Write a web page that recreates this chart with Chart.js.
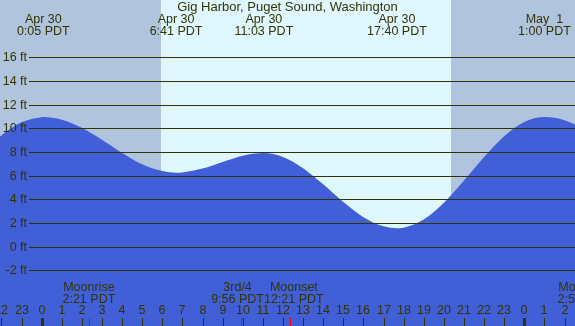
<!DOCTYPE html>
<html><head><meta charset="utf-8">
<script src="https://cdn.jsdelivr.net/npm/chart.js@4/dist/chart.umd.min.js"></script>
<style>html,body{margin:0;padding:0;background:#b0c4de;}#wrap{width:575px;height:326px;position:relative;}</style>
</head><body><div id="wrap"><canvas id="c"></canvas></div>
<script>
// Hours since Apr 30 00:00 PDT and tide height (ft)
const tideHours = [-3,-2,-1,0,0.083,1,2,3,4,5,6,6.683,7,8,9,10,11.05,12,13,14,15,16,17,17.667,18,19,20,21,22,23,24,25,26,27];
const tideFeet  = [7.83,9.39,10.50,10.94,10.95,10.73,10.04,9.03,7.92,6.96,6.38,6.25,6.27,6.59,7.15,7.68,7.90,7.58,6.63,5.26,3.77,2.49,1.71,1.55,1.60,2.30,3.71,5.58,7.57,9.33,10.53,10.95,10.68,9.93];
const yTickValues = [-2,0,2,4,6,8,10,12,14,16];
const hourTicks = [-2,-1,0,1,2,3,4,5,6,7,8,9,10,11,12,13,14,15,16,17,18,19,20,21,22,23,24,25,26];
const sunTimes = [5.93, 20.36];
const extremeHours = [0.083, 6.683, 11.05, 17.667, 25];
const extremeDates = ['Apr 30','Apr 30','Apr 30','Apr 30','May  1'];
const extremeTimes = ['0:05 PDT','6:41 PDT','11:03 PDT','17:40 PDT','1:00 PDT'];
const moonHours = [2.35, 9.933, 12.35, 26.967];
const moonNames = ['Moonrise','3rd/4','Moonset','Moonrise'];
const moonTimes = ['2:21 PDT','9:56 PDT','12:21 PDT','2:58 PDT'];
const chartTitle = 'Gig Harbor, Puget Sound, Washington';

const DARK = '#b0c4de', LIGHT = '#dff8ff', WATER = '#4160d7', INK = '#333300';
const FONT = '12.5px "Liberation Sans", Arial, sans-serif';
const TITLE_FONT = '13px "Liberation Sans", Arial, sans-serif';

const bgPlugin = {
  id: 'bg',
  beforeDraw(chart) {
    const {ctx, chartArea: a, scales: {x}} = chart;
    ctx.save();
    ctx.fillStyle = DARK;
    ctx.fillRect(0, 0, chart.width, chart.height);
    const x1 = x.getPixelForValue(sunTimes[0]), x2 = x.getPixelForValue(sunTimes[1]);
    ctx.fillStyle = LIGHT;
    ctx.fillRect(Math.round(x1), a.top, Math.round(x2) - Math.round(x1), a.bottom - a.top);
    ctx.restore();
  }
};

const overlayPlugin = {
  id: 'overlay',
  afterDatasetsDraw(chart) {
    const {ctx, chartArea: a, scales: {x, y}} = chart;
    ctx.save();
    ctx.font = FONT;
    // grid lines + y labels
    ctx.strokeStyle = INK; ctx.lineWidth = 1;
    yTickValues.forEach(v => {
      const py = Math.round(y.getPixelForValue(v)) + 0.5;
      ctx.beginPath(); ctx.moveTo(29, py); ctx.lineTo(a.right, py); ctx.stroke();
      ctx.fillStyle = INK; ctx.textAlign = 'right'; ctx.textBaseline = 'middle';
      ctx.fillText(v + ' ft', 27, py);
    });
    // title
    ctx.font = TITLE_FONT;
    ctx.fillStyle = INK; ctx.textAlign = 'center'; ctx.textBaseline = 'middle';
    ctx.fillText(chartTitle, 287.5, 7.5);
    ctx.font = FONT;
    // tide extremes
    ctx.fillStyle = INK;
    extremeHours.forEach((h, i) => {
      const px = x.getPixelForValue(h);
      ctx.fillText(extremeDates[i], px, 20);
      ctx.fillText(extremeTimes[i], px, 31.5);
    });
    // hour labels and ticks
    hourTicks.forEach(h => {
      const px = Math.round(x.getPixelForValue(h));
      const lbl = ((h % 24) + 24) % 24;
      ctx.fillStyle = INK; ctx.textAlign = 'center'; ctx.textBaseline = 'middle';
      ctx.fillText(String(lbl), px, 311);
      if (lbl === 0) ctx.fillRect(px - 1, 318, 3, 8);
      else ctx.fillRect(px, 318, 1, 8);
    });
    // moon ticks
    ctx.fillStyle = '#ff0000';
    moonHours.forEach(h => {
      const px = Math.round(x.getPixelForValue(h));
      ctx.fillRect(px, 318, 1, 8);
    });
    // moon labels with overlap resolution
    const items = moonHours.map((h, i) => {
      const w = Math.max(ctx.measureText(moonNames[i]).width, ctx.measureText(moonTimes[i]).width);
      return {c: x.getPixelForValue(h), w, i};
    });
    for (let k = 0; k < items.length - 1; k++) {
      const A = items[k], B = items[k + 1];
      const ov = (A.c + A.w / 2) - (B.c - B.w / 2);
      if (ov > 0) { A.c -= ov / 2; B.c += ov / 2; }
    }
    ctx.fillStyle = INK;
    items.forEach(it => {
      ctx.fillText(moonNames[it.i], it.c, 288);
      ctx.fillText(moonTimes[it.i], it.c, 299.5);
    });
    ctx.restore();
  }
};

new Chart(document.getElementById('c'), {
  type: 'line',
  data: {
    datasets: [{
      data: tideHours.map((h, i) => ({x: h, y: tideFeet[i]})),
      fill: 'start',
      backgroundColor: WATER,
      borderColor: WATER,
      borderWidth: 0,
      pointRadius: 0,
      cubicInterpolationMode: 'monotone'
    }]
  },
  options: {
    responsive: true,
    maintainAspectRatio: false,
    animation: false,
    events: [],
    layout: {padding: 0},
    plugins: {legend: {display: false}, tooltip: {enabled: false}, title: {display: false}},
    scales: {
      x: {type: 'linear', min: -2.07, max: 26.52, display: false},
      y: {type: 'linear', min: -6.71, max: 20.84, display: false}
    }
  },
  plugins: [bgPlugin, overlayPlugin]
});
</script>
</body></html>
